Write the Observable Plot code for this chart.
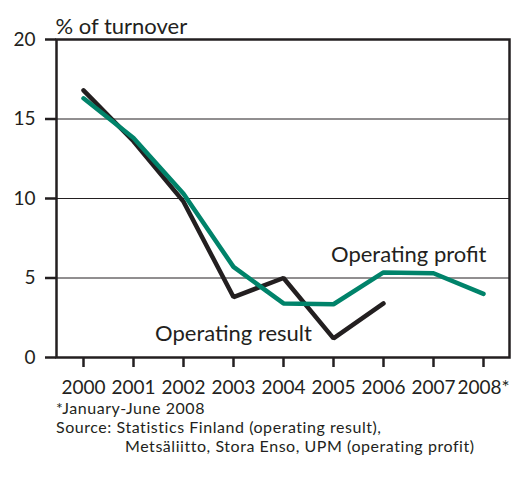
<!DOCTYPE html>
<html>
<head>
<meta charset="utf-8">
<script src="https://cdn.jsdelivr.net/npm/d3@7"></script>
<script src="https://cdn.jsdelivr.net/npm/@observablehq/plot@0.6"></script>
<style>
  body { margin: 0; background: #fff; font-family: Lato, "Open Sans", sans-serif; color: #231f20; }
  #chart svg { display: block; }
  .notes { font-size: 16px; letter-spacing: 0.55px; line-height: 19.2px; padding-left: 56px; margin-top: -7px; }
  .notes .indent { padding-left: 69px; }
</style>
</head>
<body>
<div id="chart"></div>
<div class="notes">
  <div>*January-June 2008</div>
  <div>Source: Statistics Finland (operating result),</div>
  <div class="indent">Metsäliitto, Stora Enso, UPM (operating profit)</div>
</div>
<script>
const years = ["2000", "2001", "2002", "2003", "2004", "2005", "2006", "2007", "2008*"];
const operatingResult = [16.8, 13.6, 9.8, 3.8, 5.0, 1.2, 3.4];
const operatingProfit = [16.3, 13.8, 10.3, 5.7, 3.4, 3.35, 5.35, 5.3, 4.0];
const yTicks = [0, 5, 10, 15, 20];
const gridValues = [5, 10, 15];
const yLabel = "% of turnover";
const resultLabel = "Operating result";
const profitLabel = "Operating profit";

const resultData = operatingResult.map((v, i) => ({year: years[i], value: v}));
const profitData = operatingProfit.map((v, i) => ({year: years[i], value: v}));

const ink = "#231f20";
const green = "#00836a";

const chart = Plot.plot({
  width: 517,
  height: 405,
  marginTop: 39,
  marginBottom: 48,
  marginLeft: 56,
  marginRight: 8,
  style: {fontFamily: "Lato, 'Open Sans', sans-serif", color: ink, background: "#fff"},
  x: {type: "point", domain: years, padding: 0.5, label: null},
  y: {domain: [0, 20], label: null},
  marks: [
    Plot.ruleY(gridValues, {stroke: ink, strokeWidth: 1}),
    Plot.axisY({ticks: yTicks, tickSize: 11, tickPadding: 10, fontSize: 19, strokeWidth: 2.5, stroke: ink, label: null}),
    Plot.axisX({tickSize: 10, tickPadding: 13, fontSize: 19, strokeWidth: 2.5, stroke: ink, label: null}),
    Plot.frame({stroke: ink, strokeWidth: 2.5}),
    Plot.line(resultData, {x: "year", y: "value", stroke: ink, strokeWidth: 4.5, strokeLinejoin: "miter"}),
    Plot.line(profitData, {x: "year", y: "value", stroke: green, strokeWidth: 4.5, strokeLinejoin: "miter"}),
    Plot.text([profitLabel], {x: () => years[7], y: () => operatingProfit[7], text: d => d, textAnchor: "end", dx: 53, dy: -18, fontSize: 22, fill: ink}),
    Plot.text([resultLabel], {x: () => years[3], y: () => operatingResult[3], text: d => d, textAnchor: "middle", dx: 0, dy: 37, fontSize: 22, fill: ink}),
    Plot.text([yLabel], {frameAnchor: "top-left", text: d => d, textAnchor: "start", dx: -1, dy: -21, fontSize: 22, fill: ink})
  ]
});
document.getElementById("chart").appendChild(chart);
</script>
</body>
</html>
